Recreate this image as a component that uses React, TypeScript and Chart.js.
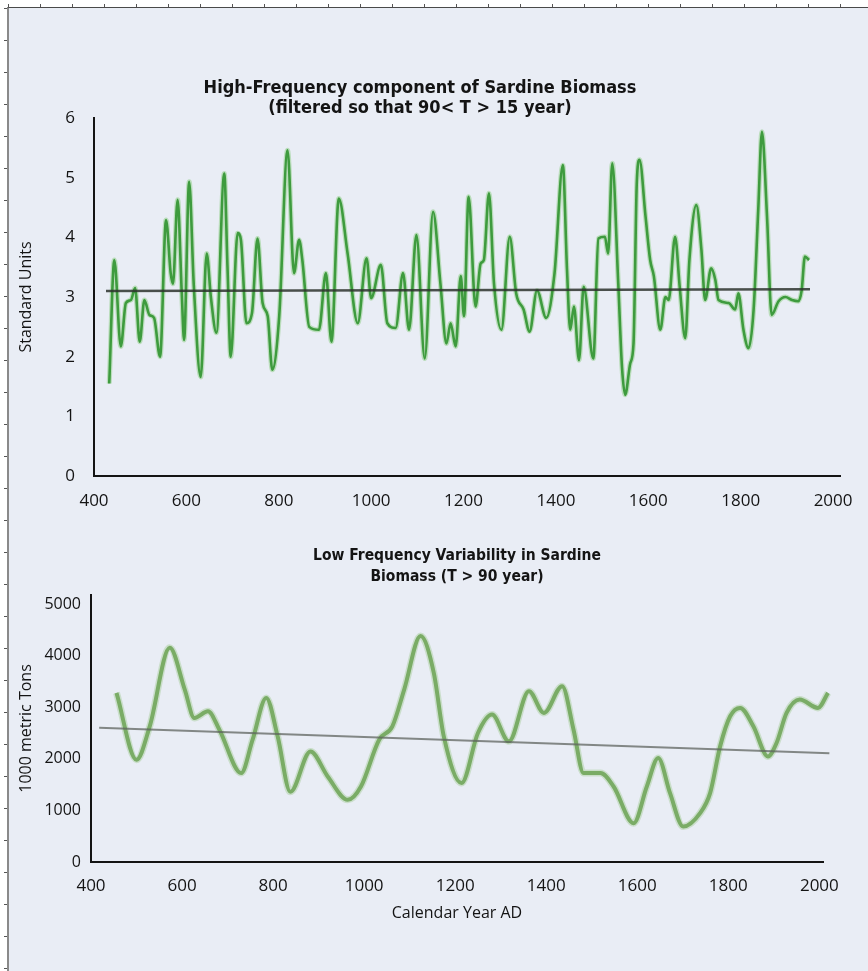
import React, { useEffect, useRef } from "react";
import { Chart, registerables } from "chart.js";
Chart.register(...registerables);

// ---------- High-frequency component (top chart) ----------
const hfYears = [
  433, 444, 458, 469, 480, 489, 499, 509, 520, 530, 543, 556, 566, 571, 581, 590, 595, 606, 616, 631,
  644, 653, 665, 682, 689, 696, 711, 718, 730, 742, 754, 765, 776, 786, 801, 819, 833, 844, 851, 866,
  887, 902, 914, 930, 949, 971, 990, 1000, 1021, 1035, 1053, 1069, 1082, 1098, 1116, 1134, 1150, 1163, 1172, 1183,
  1194, 1201, 1211, 1226, 1237, 1244, 1255, 1266, 1282, 1300, 1314, 1330, 1343, 1359, 1379, 1397, 1415, 1424, 1431, 1439,
  1450, 1460, 1481, 1492, 1506, 1513, 1522, 1535, 1543, 1550, 1561, 1568, 1575, 1581, 1594, 1604, 1612, 1626, 1637, 1644,
  1658, 1668, 1680, 1689, 1704, 1715, 1723, 1736, 1745, 1752, 1774, 1788, 1795, 1806, 1817, 1828, 1838, 1846, 1857, 1867,
  1882, 1897, 1911, 1925, 1932, 1939, 1948,
];
const hfValues = [
  1.55, 3.62, 2.17, 2.9, 2.95, 3.15, 2.25, 2.95, 2.7, 2.65, 2.0, 4.29, 3.4, 3.22, 4.63, 3.06, 2.28, 4.93, 3.2, 1.66,
  3.73, 3.0, 2.4, 5.07, 3.5, 2.0, 4.07, 3.96, 2.56, 2.73, 3.98, 2.9, 2.68, 1.78, 2.68, 5.46, 3.4, 3.96, 3.62, 2.5,
  2.45, 3.4, 2.25, 4.65, 3.73, 2.56, 3.65, 2.98, 3.54, 2.56, 2.48, 3.4, 2.45, 4.04, 1.97, 4.43, 3.22, 2.22, 2.56, 2.17,
  3.35, 2.68, 4.68, 2.84, 3.56, 3.62, 4.74, 3.22, 2.45, 4.01, 3.06, 2.79, 2.42, 3.11, 2.65, 3.4, 5.21, 3.46, 2.45, 2.84,
  1.94, 3.17, 1.97, 3.98, 4.01, 3.73, 5.24, 3.22, 1.83, 1.36, 1.89, 2.22, 4.9, 5.3, 4.35, 3.62, 3.35, 2.45, 3.0, 2.95,
  4.01, 3.17, 2.31, 3.62, 4.54, 3.79, 2.95, 3.48, 3.29, 2.95, 2.9, 2.79, 3.06, 2.45, 2.14, 2.79, 4.46, 5.77, 4.35, 2.7,
  2.93, 3.0, 2.95, 2.93, 3.11, 3.68, 3.62,
];
const hfTrendYears = [426, 1950];
const hfTrendValues = [3.1, 3.13];
const hfXTicks = [400, 600, 800, 1000, 1200, 1400, 1600, 1800, 2000];
const hfYTicks = [0, 1, 2, 3, 4, 5, 6];
const hfTitle = ["High-Frequency component of Sardine Biomass", "(filtered so that 90< T > 15 year)"];
const hfYLabel = "Standard Units";

// ---------- Low-frequency variability (bottom chart) ----------
const lfYears = [
  456, 500, 529, 573, 606, 627, 657, 682, 730, 755, 785, 810, 838, 882, 920, 964, 993, 1033, 1062, 1088,
  1124, 1153, 1175, 1214, 1250, 1281, 1318, 1362, 1395, 1435, 1460, 1482, 1519, 1548, 1592, 1621, 1646, 1672, 1701, 1738,
  1760, 1782, 1804, 1826, 1855, 1887, 1906, 1928, 1957, 1997, 2019,
];
const lfValues = [
  3278, 1982, 2630, 4153, 3342, 2792, 2921, 2565, 1723, 2371, 3181, 2435, 1360, 2143, 1658, 1205, 1463, 2371, 2630, 3342,
  4378, 3667, 2435, 1529, 2500, 2857, 2338, 3309, 2889, 3407, 2565, 1723, 1723, 1463, 752, 1463, 2015, 1335, 686, 946,
  1335, 2241, 2824, 2987, 2630, 2046, 2306, 2889, 3148, 2987, 3278,
];
const lfTrendYears = [418, 2022];
const lfTrendValues = [2600, 2110];
const lfXTicks = [400, 600, 800, 1000, 1200, 1400, 1600, 1800, 2000];
const lfYTicks = [0, 1000, 2000, 3000, 4000, 5000];
const lfTitle = ["Low Frequency Variability in Sardine", "Biomass (T > 90 year)"];
const lfYLabel = "1000 metric Tons";
const lfXLabel = "Calendar Year AD";

const TITLE_FONT = "'Liberation Sans Narrow', 'DejaVu Sans Condensed', 'Open Sans', sans-serif";
const TEXT_FONT = "'Open Sans', 'Noto Sans', sans-serif";
const INK = "#141414";

const toPoints = (xs: number[], ys: number[]) => xs.map((x, i) => ({ x, y: ys[i] }));
const plain = (v: any) => String(v);

function HighFreqChart() {
  const ref = useRef<HTMLCanvasElement | null>(null);
  useEffect(() => {
    if (!ref.current) return;
    const pts = toPoints(hfYears, hfValues);
    const chart = new Chart(ref.current, {
      type: "line",
      data: {
        datasets: [
          {
            data: toPoints(hfTrendYears, hfTrendValues),
            borderColor: "rgba(45,50,45,0.85)",
            borderWidth: 2.5,
            pointRadius: 0,
            order: 0,
          },
          {
            data: pts,
            borderColor: "rgb(62,155,62)",
            borderWidth: 2.6,
            pointRadius: 0,
            tension: 0.25,
            cubicInterpolationMode: "monotone",
            clip: false,
            order: 1,
          },
          {
            data: pts,
            borderColor: "rgba(140,205,130,0.5)",
            borderWidth: 5,
            pointRadius: 0,
            tension: 0.25,
            cubicInterpolationMode: "monotone",
            clip: false,
            order: 2,
          },
        ],
      },
      options: {
        animation: false,
        responsive: false,
        devicePixelRatio: 1,
        events: [],
        layout: { padding: { top: 0, right: 28, bottom: 0, left: 0 } },
        plugins: {
          legend: { display: false },
          tooltip: { enabled: false },
          title: {
            display: true,
            text: hfTitle,
            color: INK,
            font: { family: TITLE_FONT, size: 18, weight: "bold", lineHeight: 20 / 18 },
            padding: { top: 78, bottom: 0 },
          },
        },
        scales: {
          x: {
            type: "linear",
            min: 400,
            max: 2015,
            afterBuildTicks: (s: any) => {
              s.ticks = hfXTicks.map((v) => ({ value: v }));
            },
            afterFit: (s: any) => {
              s.height = 44;
            },
            grid: { display: false, drawTicks: false },
            border: { display: true, color: INK, width: 2 },
            ticks: { padding: 15, color: INK, maxRotation: 0, callback: plain, font: { family: TEXT_FONT, size: 17 } },
          },
          y: {
            type: "linear",
            min: 0,
            max: 6,
            afterBuildTicks: (s: any) => {
              s.ticks = hfYTicks.map((v) => ({ value: v }));
            },
            afterFit: (s: any) => {
              s.width = 94;
            },
            grid: { display: false, drawTicks: false },
            border: { display: true, color: INK, width: 2 },
            ticks: { padding: 19, color: INK, callback: plain, font: { family: TEXT_FONT, size: 17 } },
            title: {
              display: true,
              text: hfYLabel,
              color: INK,
              font: { family: TEXT_FONT, size: 16, lineHeight: 1.2 },
              padding: { top: 17, bottom: 0 },
            },
          },
        },
      },
    } as any);
    return () => chart.destroy();
  }, []);
  return (
    <canvas
      ref={ref}
      width={868}
      height={520}
      style={{ position: "absolute", left: 0, top: 0, width: 868, height: 520 }}
    />
  );
}

function LowFreqChart() {
  const ref = useRef<HTMLCanvasElement | null>(null);
  useEffect(() => {
    if (!ref.current) return;
    const pts = toPoints(lfYears, lfValues);
    const chart = new Chart(ref.current, {
      type: "line",
      data: {
        datasets: [
          {
            data: toPoints(lfTrendYears, lfTrendValues),
            borderColor: "rgba(95,100,95,0.75)",
            borderWidth: 2,
            pointRadius: 0,
            clip: false,
            order: 0,
          },
          {
            data: pts,
            borderColor: "rgb(122,172,102)",
            borderWidth: 4,
            pointRadius: 0,
            tension: 0.4,
            cubicInterpolationMode: "monotone",
            clip: false,
            order: 1,
          },
          {
            data: pts,
            borderColor: "rgba(165,205,150,0.45)",
            borderWidth: 7,
            pointRadius: 0,
            tension: 0.4,
            cubicInterpolationMode: "monotone",
            clip: false,
            order: 2,
          },
        ],
      },
      options: {
        animation: false,
        responsive: false,
        devicePixelRatio: 1,
        events: [],
        layout: { padding: { top: 0, right: 45, bottom: 0, left: 0 } },
        plugins: {
          legend: { display: false },
          tooltip: { enabled: false },
          title: {
            display: true,
            fullSize: false,
            text: lfTitle,
            color: INK,
            font: { family: TITLE_FONT, size: 15.5, weight: "bold", lineHeight: 21 / 15.5 },
            padding: { top: 25, bottom: 8 },
          },
        },
        scales: {
          x: {
            type: "linear",
            min: 400,
            max: 2008,
            afterBuildTicks: (s: any) => {
              s.ticks = lfXTicks.map((v) => ({ value: v }));
            },
            afterFit: (s: any) => {
              s.height = 109;
            },
            grid: { display: false, drawTicks: false },
            border: { display: true, color: INK, width: 2 },
            ticks: { padding: 14, color: INK, maxRotation: 0, callback: plain, font: { family: TEXT_FONT, size: 17 } },
            title: {
              display: true,
              text: lfXLabel,
              color: INK,
              font: { family: TEXT_FONT, size: 16, lineHeight: 1.2 },
              padding: { top: 0, bottom: 48 },
            },
          },
          y: {
            type: "linear",
            min: 0,
            max: 5175,
            afterBuildTicks: (s: any) => {
              s.ticks = lfYTicks.map((v) => ({ value: v }));
            },
            afterFit: (s: any) => {
              s.width = 91;
            },
            grid: { display: false, drawTicks: false },
            border: { display: true, color: INK, width: 2 },
            ticks: { padding: 10, color: INK, callback: plain, font: { family: TEXT_FONT, size: 16 } },
            title: {
              display: true,
              text: lfYLabel,
              color: INK,
              font: { family: TEXT_FONT, size: 16, lineHeight: 1.2 },
              padding: { top: 17, bottom: 0 },
            },
          },
        },
      },
    } as any);
    return () => chart.destroy();
  }, []);
  return (
    <canvas
      ref={ref}
      width={868}
      height={451}
      style={{ position: "absolute", left: 0, top: 520, width: 868, height: 451 }}
    />
  );
}

export default function App() {
  return (
    <div
      style={{
        position: "absolute",
        left: 0,
        top: 0,
        width: 868,
        height: 971,
        background: "#ffffff",
        overflow: "hidden",
      }}
    >
      <div
        style={{
          position: "absolute",
          left: 7,
          top: 7,
          width: 861,
          height: 964,
          background: "rgb(233,237,245)",
          borderTop: "1px solid #4a4a4a",
          borderLeft: "2px solid #8a8a8a",
          boxSizing: "border-box",
        }}
      />
      <div
        style={{
          position: "absolute",
          left: 7,
          top: 4,
          width: 861,
          height: 3,
          backgroundImage: "linear-gradient(to right, #555 0px, #555 1px, transparent 1px)",
          backgroundSize: "32px 3px",
          backgroundPosition: "33px 0px",
          backgroundRepeat: "repeat-x",
        }}
      />
      <div
        style={{
          position: "absolute",
          left: 4,
          top: 7,
          width: 3,
          height: 964,
          backgroundImage: "linear-gradient(to bottom, #555 0px, #555 1px, transparent 1px)",
          backgroundSize: "3px 32px",
          backgroundPosition: "0px 33px",
          backgroundRepeat: "repeat-y",
        }}
      />
      <HighFreqChart />
      <LowFreqChart />
    </div>
  );
}
